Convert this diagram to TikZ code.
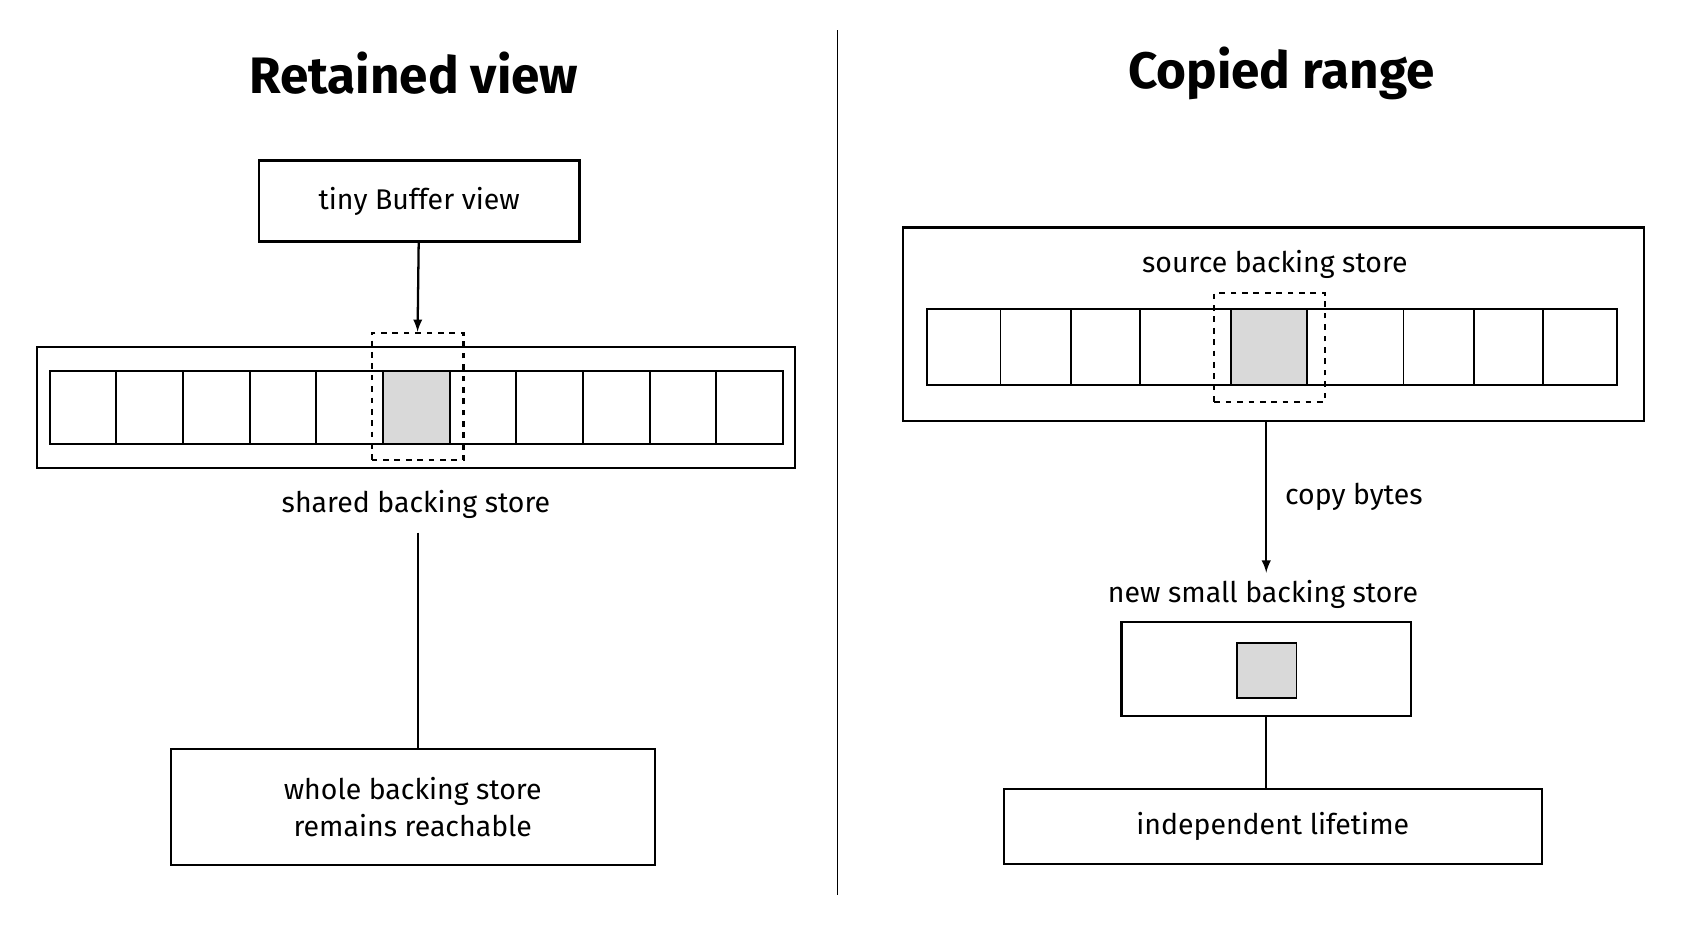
\documentclass[tikz,border=0pt]{standalone}
\usepackage{fontspec}
\setmainfont{Fira Sans}
\usepackage{tikz}
\usetikzlibrary{arrows,calc,positioning}

\begin{document}
\begin{tikzpicture}[x=0.02cm,y=-0.02cm,>=latex,line width=1.2pt]
	\tikzstyle{block} = [draw, rectangle, inner sep=0pt, font=\fontsize{15}{19}\selectfont]
	\tikzstyle{cell} = [draw, rectangle, inner sep=0pt, line width=1pt]
	\tikzstyle{lbl} = [font=\fontsize{15}{19}\selectfont]
	\tikzstyle{title} = [font=\fontsize{27}{32}\selectfont\bfseries]
	\tikzstyle{sel} = [draw, dashed, line width=1.1pt, inner sep=0pt]
	\useasboundingbox (0,0) rectangle (1567,860);

	% divider
	\coordinate (divtop) at (775,28);
	\coordinate (divbot) at (775,828);
	\draw[line width=0.8pt] (divtop) -- (divbot);

	% left side
	\node[title] (lefttitle) at (383,68) {Retained view};
	\node[block, minimum width=5.94cm, minimum height=1.5cm] (tiny) at (388,186) {tiny Buffer view};
	\node[block, minimum width=14.04cm, minimum height=2.24cm] (shared) at (385,377) {};
	\foreach \i in {0,...,10} {
		\node[cell, minimum width=1.234cm, minimum height=1.36cm] (lc\i) at ({46+61.7*\i+30.85},377) {};
	}
	\fill[gray!30] ($(lc5.north west)+(1,1)$) rectangle ($(lc5.south east)+(-1,-1)$);
	\node[cell, minimum width=1.234cm, minimum height=1.36cm] at (lc5) {};
	\node[sel, minimum width=1.7cm, minimum height=2.36cm] (lsel) at (386.5,367) {};
	\node[lbl] (sharedlbl) at (385,467) {shared backing store};
	\node[block, minimum width=8.96cm, minimum height=2.14cm, align=center] (whole) at (382,747) {whole backing store\\remains reachable};

	\draw[->] (tiny) -- (lsel.north);
	\draw (387,493) -- (whole.north -| 387,493);

	% right side
	\node[title] (righttitle) at (1186,68) {Copied range};
	\node[block, minimum width=13.72cm, minimum height=3.58cm] (source) at (1179,300) {};
	\node[lbl] (sourcelbl) at (1180,245) {source backing store};
	\foreach \a/\b [count=\k] in {858/926,926/991,991/1055,1055/1139,1139/1210,1210/1299,1299/1364,1364/1428,1428/1497} {
		\draw[line width=1pt] (\a,286) rectangle (\b,356);
	}
	\fill[gray!30] (1140,287) rectangle (1209,355);
	\draw[line width=1pt] (1139,286) rectangle (1210,356);
	\node[sel, minimum width=2.04cm, minimum height=2.02cm] (rsel) at (1175,321.5) {};
	\node[lbl] (newlbl) at (1169,550) {new small backing store};
	\node[block, minimum width=5.36cm, minimum height=1.74cm] (small) at (1172,619.5) {};
	\node[cell, fill=gray!30, minimum width=1.1cm, minimum height=1.02cm] (byte) at (1172.5,620.5) {};
	\node[block, minimum width=9.96cm, minimum height=1.4cm] (indep) at (1178,765) {independent lifetime};

	\coordinate (copyend) at (1172,530);
	\draw[->] (source.south -| copyend) -- node[lbl, right=6pt, pos=0.5] {copy bytes} (copyend);
	\draw (small.south -| 1172,0) -- (indep.north -| 1172,0);
\end{tikzpicture}
\end{document}
